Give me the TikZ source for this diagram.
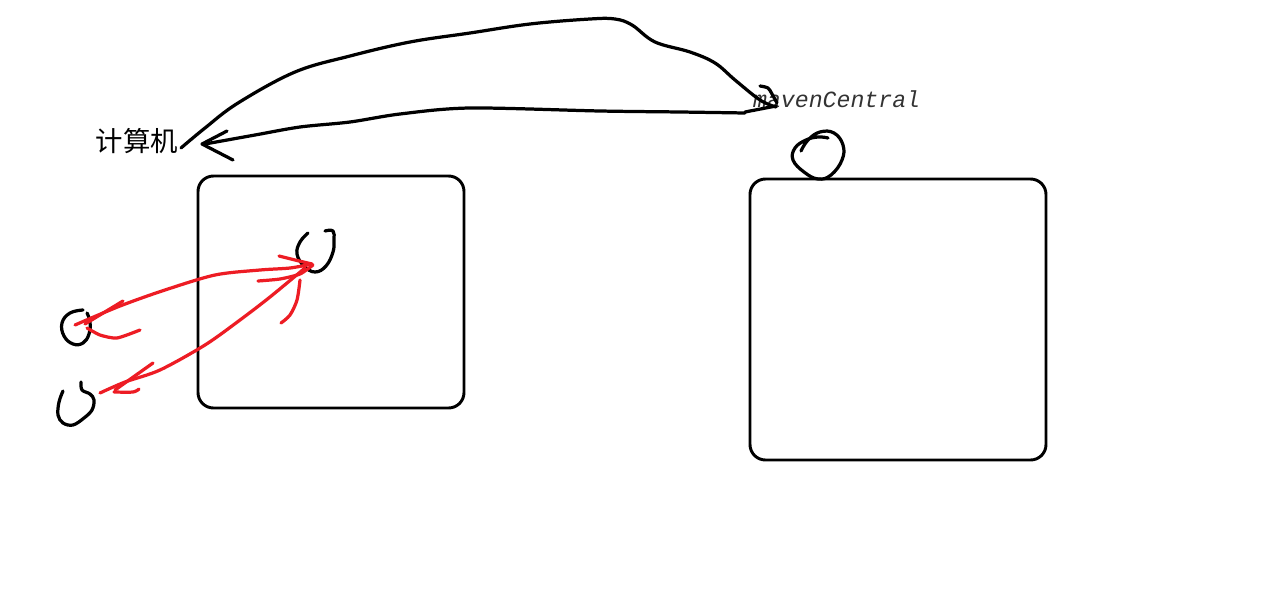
\documentclass[tikz,border=0pt]{standalone}
\usepackage{fontspec}
\newfontfamily\cjk{Noto Sans CJK SC}
\setmonofont{Liberation Mono}
\begin{document}
\begin{tikzpicture}[x=0.05cm,y=-0.05cm,
  pen/.style={line width=4.6pt,line cap=round,line join=round},
  blk/.style={pen,black},
  redpen/.style={pen,draw=paintred},
  box/.style={draw=black,line width=4.2pt,rounded corners=22pt},
  lbl/.style={inner sep=0pt}]
\definecolor{paintred}{HTML}{ED1C24}
\useasboundingbox (0,0) rectangle (1280,600);
% boxes
\draw[box] (198,176) rectangle (464,408);
\draw[box] (750,179) rectangle (1046,460);
% labels
\node[lbl,anchor=base] (comp) at (137,151) {\cjk\fontsize{39}{42}\selectfont 计算机};
\node[lbl,anchor=base west,text=black!80] (maven) at (753,107) {\ttfamily\itshape\fontsize{33}{36}\selectfont mavenCentral};
% big upper curve
\draw[blk] plot[smooth,tension=0.6] coordinates {(181,148) (205,128) (238,103) (295,72) (350,56) (410,42) (470,33) (530,24) (590,19) (615,19) (632,25) (655,42) (690,52) (715,63) (735,80) (760,100) (776,107)};
\draw[blk] plot[smooth] coordinates {(760,86) (768,88) (772,94) (777,103)};
% lower return line
\draw[blk] plot[smooth,tension=0.5] coordinates {(776,106) (745,112)};
\draw[blk] plot[smooth,tension=0.5] coordinates {(745,113) (680,112) (600,111) (470,108) (400,114) (350,122) (300,127) (255,135) (205,144)};
\draw[blk] (227,131) -- (202,144) -- (233,160);
% circles
\draw[blk] plot[smooth,tension=0.7] coordinates {(308,233) (300,242) (297,254) (304,266) (315,272) (326,266) (333,252) (334,240) (333,231) (325,231)};
\draw[blk] plot[smooth,tension=0.7] coordinates {(83,310) (70,313) (62,323) (64,336) (73,344) (83,343) (89,334) (90,322) (87,313)};
\draw[blk] plot[smooth,tension=0.6] coordinates {(81,382) (82,390) (90,394) (94,400) (92,410) (84,418) (73,425) (63,423) (58,415) (59,402) (63,391)};
\draw[blk] plot[smooth,tension=0.7] coordinates {(801,151) (808,140) (820,132) (834,133) (843,145) (842,160) (831,175) (818,179) (804,172) (793,160) (795,148) (806,140) (818,137) (828,138)};
% red arrows
\draw[redpen] plot[smooth,tension=0.5] coordinates {(75,325) (120,306) (165,290) (215,275) (260,270) (290,268) (312,264)};
\draw[redpen] (279,256) -- (295,260) -- (312,264);
\draw[redpen] plot[smooth,tension=0.4] coordinates {(258,281) (280,279) (300,274) (313,265)};
\draw[redpen] (123,301) -- (85,324);
\draw[redpen] plot[smooth,tension=0.4] coordinates {(87,328) (100,335) (117,338) (140,330)};
\draw[redpen] plot[smooth,tension=0.5] coordinates {(100,393) (125,382) (160,370) (205,345) (240,320) (270,297) (305,268)};
\draw[redpen] (153,363) -- (115,390);
\draw[redpen] plot[smooth] coordinates {(114,392) (133,392) (139,389)};
\draw[redpen] plot[smooth] coordinates {(300,280) (297,300) (290,315) (281,323)};
\end{tikzpicture}
\end{document}
